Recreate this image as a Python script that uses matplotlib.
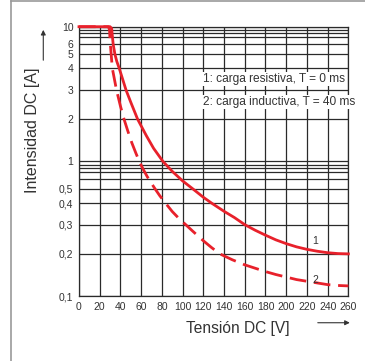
import numpy as np
import matplotlib
matplotlib.use("Agg")
import matplotlib.pyplot as plt
from matplotlib.lines import Line2D

# -- curve 1: carga resistiva
v1 = [0, 30, 31.5, 33, 34.7, 36.5, 38.9, 45.4, 50, 56.6, 65, 72, 81, 90, 100, 110,
      120, 128, 140, 150, 160, 170, 180, 190, 200, 210, 220, 230, 240, 250, 260]
a1 = [10, 10, 9.5, 6, 5, 4.5, 4, 3, 2.58, 2, 1.61, 1.31, 1.0, 0.72, 0.58, 0.5,
      0.4415, 0.4, 0.362, 0.333, 0.3, 0.281, 0.264, 0.248, 0.235, 0.224, 0.2155,
      0.209, 0.204, 0.201, 0.2]

# -- curve 2: carga inductiva
v2 = [0, 28.5, 29.5, 30, 32.2, 36.2, 40, 43.5, 47, 51, 55, 58.2, 62, 66, 70, 73.5,
      78, 83.5, 90, 96, 103, 110, 120, 128, 136, 148, 160, 170, 180, 190, 200,
      210, 220, 230, 240, 250, 260]
a2 = [10, 10, 9, 6.5, 4, 3, 2.45, 2, 1.73, 1.44, 1.19, 1.0, 0.768, 0.63, 0.555, 0.5,
      0.452, 0.4, 0.361, 0.331, 0.3, 0.277, 0.245, 0.2215, 0.2, 0.186, 0.174,
      0.166, 0.158, 0.151, 0.145, 0.139, 0.135, 0.131, 0.127, 0.125, 0.124]

x_ticks = list(range(0, 261, 20))
y_major = [0.1, 0.2, 0.3, 0.4, 0.5, 1, 2, 3, 4, 5, 6, 10]
y_major_labels = ["0,1", "0,2", "0,3", "0,4", "0,5", "1", "2", "3", "4", "5", "6", "10"]
y_minor = [0.6, 0.7, 0.8, 0.9, 7, 8, 9]

legend_lines = ["1: carga resistiva, T = 0 ms", "2: carga inductiva, T = 40 ms"]

# the original diagram uses a squeezed log axis: where each mantissa sits in its decade
mant = np.array([1, 2, 3, 4, 5, 6, 7, 8, 9, 10], dtype=float)
frac = np.array([0, 0.313, 0.53, 0.69, 0.795, 0.87, 0.92, 0.95, 0.975, 1.0])


def fwd(y):
    y = np.asarray(y, dtype=float)
    with np.errstate(divide="ignore", invalid="ignore"):
        ly = np.log10(np.clip(y, 1e-6, None))
    dec = np.floor(ly)
    m = 10 ** (ly - dec)
    return dec + np.interp(m, mant, frac)


def inv(p):
    p = np.asarray(p, dtype=float)
    dec = np.floor(p)
    m = np.interp(p - dec, frac, mant)
    return m * 10 ** dec


red = "#e8212b"
plt.rcParams["font.family"] = ["Liberation Sans", "DejaVu Sans"]

fig = plt.figure(figsize=(3.65, 3.61), dpi=100)
ax = fig.add_axes([0.2164, 0.18, 0.738, 0.746])
ax.set_yscale("function", functions=(fwd, inv))
ax.set_xlim(0, 260)
ax.set_ylim(0.1, 10)

ax.set_xticks(x_ticks)
ax.set_xticklabels([str(t) for t in x_ticks])
ax.set_yticks(y_major)
ax.set_yticklabels(y_major_labels)
ax.set_yticks(y_minor, minor=True)
ax.yaxis.set_minor_formatter(matplotlib.ticker.NullFormatter())
ax.tick_params(which="both", length=0, labelsize=7.5, colors="#333333", pad=4)
ax.grid(True, which="both", color="#2a2a2a", lw=0.9)
for s in ax.spines.values():
    s.set_color("#2a2a2a")
    s.set_linewidth(0.9)

ax.plot(v2, a2, color=red, lw=2.0, dashes=(6, 2.8), solid_capstyle="butt",
        zorder=3, clip_on=False)
ax.plot(v1, a1, color=red, lw=2.0, zorder=4, clip_on=False)

ax.text(228, 0.243, "1", fontsize=7.5, color="#333333", ha="center", va="center")
ax.text(228, 0.139, "2", fontsize=7.5, color="#333333", ha="center", va="center")

for i, line in enumerate(legend_lines):
    ax.text(0.459, 0.806 - 0.087 * i, line, transform=ax.transAxes,
            fontsize=8.6, color="#333333", ha="left", va="center",
            clip_on=False, zorder=5,
            bbox=dict(facecolor="white", edgecolor="none", pad=0.8))

fig.text(0.09, 0.64, "Intensidad DC [A]", rotation=90, fontsize=11.5,
         color="#333333", ha="center", va="center")
fig.text(0.651, 0.091, "Tensión DC [V]", fontsize=11.2,
         color="#333333", ha="center", va="center")

arrow = dict(arrowstyle="-|>", color="#333333", lw=0.8, mutation_scale=7)
ax.annotate("", xy=(0.1186, 0.925), xytext=(0.1186, 0.8255),
            xycoords="figure fraction", arrowprops=arrow)
ax.annotate("", xy=(0.966, 0.106), xytext=(0.863, 0.106),
            xycoords="figure fraction", arrowprops=arrow)

# outer frame of the datasheet figure
fig.add_artist(Line2D([11 / 365, 11 / 365], [0, 0.997], color="#999999", lw=1.2))
fig.add_artist(Line2D([11 / 365, 1], [0.997, 0.997], color="#999999", lw=1.2))

fig.savefig("out.png", dpi=100)
